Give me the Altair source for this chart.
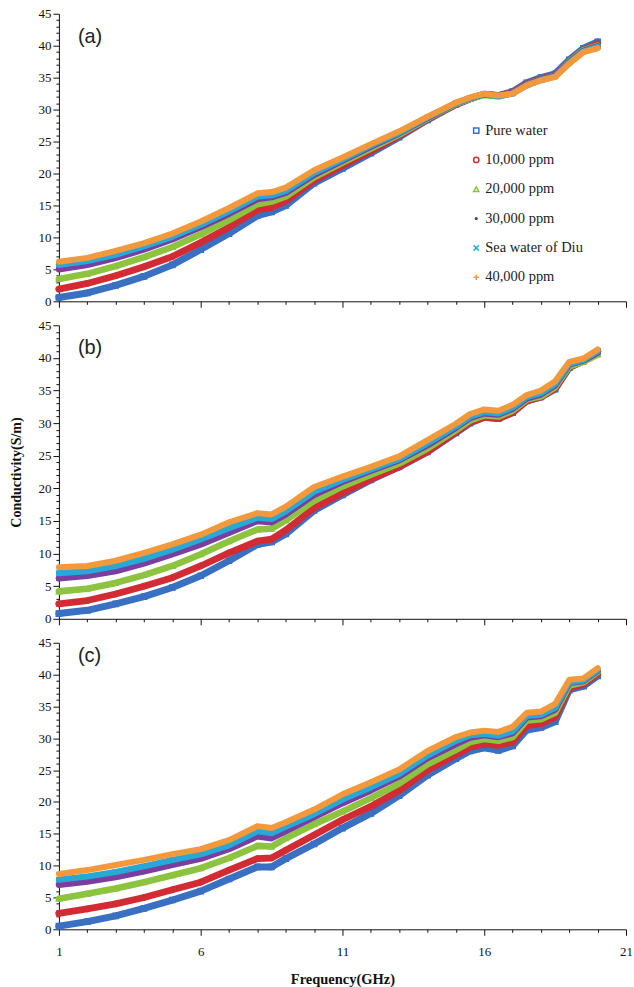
import altair as alt
import pandas as pd

freq = [1, 2, 3, 4, 5, 6, 7, 8, 8.5, 9, 10, 11, 12, 13, 14, 15, 15.5, 16, 16.5, 17, 17.5, 18, 18.5, 19, 19.5, 20]
series = ["Pure water", "10,000 ppm", "20,000 ppm", "30,000 ppm", "Sea water of Diu", "40,000 ppm"]
colors = ["#3a70c2", "#d22b33", "#8cc43f", "#4b3a7a", "#27a9d8", "#f4993b"]
shapes = ["square", "circle", "triangle-up",
          "M0,-0.3A0.3,0.3 0 1 1 0,0.3A0.3,0.3 0 1 1 0,-0.3Z",
          "M-1,-1L1,1M1,-1L-1,1", "M-1,0L1,0M0,-1L0,1"]
line_colors = ["#3a70c2", "#d22b33", "#8cc43f", "#7a3ea0", "#27a9d8", "#f4993b"]
line_widths = [7, 6, 6, 2, 5, 6]

# Panel (a)
a_pure   = [0.6, 1.3, 2.5, 3.9, 5.7, 8.1, 10.6, 13.4, 14.0, 15.0, 18.5, 20.8, 23.2, 25.7, 28.4, 30.8, 31.7, 32.4, 32.2, 32.8, 34.2, 35.0, 35.6, 37.8, 39.6, 40.6]
a_10k    = [1.9, 2.8, 4.0, 5.4, 7.0, 9.2, 11.6, 14.3, 14.7, 15.7, 18.9, 21.2, 23.5, 25.9, 28.5, 30.8, 31.7, 32.4, 32.2, 32.7, 34.0, 34.8, 35.4, 37.6, 39.4, 40.3]
a_20k    = [3.5, 4.3, 5.5, 6.9, 8.5, 10.5, 12.7, 15.2, 15.6, 16.4, 19.4, 21.7, 23.9, 26.1, 28.6, 30.9, 31.7, 32.3, 32.1, 32.6, 33.9, 34.7, 35.3, 37.5, 39.3, 40.0]
a_30k    = [5.0, 5.7, 6.8, 8.1, 9.7, 11.6, 13.7, 16.0, 16.3, 17.0, 19.8, 22.0, 24.2, 26.3, 28.7, 31.0, 31.8, 32.4, 32.2, 32.6, 33.9, 34.7, 35.3, 37.4, 39.2, 39.9]
a_sea    = [5.7, 6.3, 7.3, 8.6, 10.1, 12.0, 14.1, 16.4, 16.6, 17.3, 20.1, 22.2, 24.4, 26.4, 28.8, 31.0, 31.8, 32.4, 32.1, 32.5, 33.8, 34.6, 35.2, 37.3, 39.1, 39.8]
a_40k    = [6.2, 6.8, 7.9, 9.1, 10.6, 12.5, 14.6, 16.9, 17.1, 17.8, 20.5, 22.5, 24.6, 26.6, 28.9, 31.1, 31.9, 32.5, 32.2, 32.5, 33.8, 34.6, 35.1, 37.2, 39.0, 39.6]

# Panel (b)
b_pure   = [0.8, 1.3, 2.3, 3.4, 4.8, 6.6, 8.9, 11.4, 11.8, 13.0, 16.6, 19.0, 21.3, 23.3, 25.6, 28.5, 30.0, 30.9, 30.7, 31.6, 33.4, 34.0, 35.2, 38.5, 39.5, 41.0]
b_10k    = [2.3, 2.8, 3.8, 5.0, 6.3, 8.1, 10.1, 11.9, 12.2, 13.6, 17.0, 19.3, 21.4, 23.3, 25.6, 28.6, 30.1, 30.9, 30.7, 31.6, 33.4, 34.0, 35.3, 38.6, 39.5, 41.0]
b_20k    = [4.2, 4.6, 5.5, 6.7, 8.1, 9.9, 11.9, 13.7, 13.8, 15.1, 18.1, 20.3, 22.1, 23.8, 26.1, 28.9, 30.4, 31.2, 31.0, 31.9, 33.6, 34.1, 35.5, 38.7, 39.4, 40.5]
b_30k    = [6.2, 6.6, 7.3, 8.5, 9.9, 11.4, 13.2, 15.0, 14.8, 16.0, 19.0, 21.0, 22.7, 24.3, 26.6, 29.3, 30.8, 31.5, 31.3, 32.2, 33.8, 34.4, 35.8, 39.0, 39.6, 40.8]
b_sea    = [7.0, 7.3, 8.1, 9.2, 10.6, 12.2, 13.9, 15.5, 15.3, 16.5, 19.5, 21.3, 22.9, 24.5, 26.9, 29.5, 31.0, 31.7, 31.5, 32.4, 34.0, 34.6, 36.0, 39.1, 39.7, 41.0]
b_40k    = [7.9, 8.1, 8.9, 10.1, 11.4, 12.9, 14.8, 16.2, 16.0, 17.2, 20.2, 21.8, 23.3, 24.9, 27.4, 29.9, 31.4, 32.1, 31.9, 32.8, 34.3, 35.0, 36.4, 39.4, 39.9, 41.3]

# Panel (c)
c_pure   = [0.5, 1.2, 2.1, 3.3, 4.6, 6.0, 7.9, 9.8, 9.8, 11.1, 13.4, 15.9, 18.2, 21.0, 24.2, 26.8, 28.0, 28.5, 28.1, 28.8, 31.3, 31.7, 32.6, 37.6, 38.2, 39.8]
c_10k    = [2.5, 3.2, 4.0, 5.0, 6.2, 7.4, 9.3, 11.1, 11.2, 12.4, 14.8, 17.2, 19.3, 21.8, 25.0, 27.4, 28.6, 29.1, 28.9, 29.4, 32.0, 32.3, 33.3, 37.9, 38.5, 40.1]
c_20k    = [4.8, 5.6, 6.4, 7.4, 8.5, 9.6, 11.2, 13.1, 13.0, 14.3, 16.5, 18.5, 20.6, 22.9, 25.9, 28.2, 29.4, 29.9, 29.6, 30.2, 32.8, 33.0, 34.0, 38.3, 38.8, 40.4]
c_30k    = [7.0, 7.5, 8.2, 9.1, 10.1, 11.1, 12.6, 14.6, 14.3, 15.4, 17.6, 19.8, 21.8, 24.0, 26.9, 29.1, 30.1, 30.5, 30.2, 30.8, 33.3, 33.5, 34.5, 38.7, 39.0, 40.6]
c_sea    = [7.8, 8.3, 9.0, 9.9, 10.9, 11.8, 13.2, 15.4, 15.1, 16.1, 18.1, 20.4, 22.3, 24.4, 27.3, 29.6, 30.5, 30.7, 30.4, 31.1, 33.5, 33.7, 34.8, 38.8, 39.1, 40.7]
c_40k    = [8.7, 9.3, 10.1, 10.9, 11.8, 12.6, 14.0, 16.2, 15.9, 16.8, 18.8, 21.2, 23.1, 25.1, 28.0, 30.2, 30.9, 31.2, 31.0, 31.8, 34.0, 34.2, 35.4, 39.2, 39.4, 41.0]

panels = {
    "(a)": [a_pure, a_10k, a_20k, a_30k, a_sea, a_40k],
    "(b)": [b_pure, b_10k, b_20k, b_30k, b_sea, b_40k],
    "(c)": [c_pure, c_10k, c_20k, c_30k, c_sea, c_40k],
}

x_ticks = list(range(1, 22))
y_ticks = list(range(0, 46))
BLACK = "#111111"
SERIF = "Liberation Serif"


def make_df(vals):
    rows = []
    for s, v in zip(series, vals):
        for f, y in zip(freq, v):
            rows.append({"freq": f, "value": y, "series": s})
    return pd.DataFrame(rows)


def x_axis(show_labels):
    kw = dict(
        values=x_ticks,
        labelExpr="(datum.value - 1) % 5 === 0 ? datum.label : ''",
        tickSize={"condition": {"test": "(datum.value - 1) % 5 === 0", "value": 6}, "value": 3},
        labelOverlap=False,
        labelFlush=False,
        domainColor=BLACK,
        tickColor=BLACK,
        labelFont=SERIF,
        labelFontSize=13,
        labelColor=BLACK,
        labelPadding=10,
        grid=False,
    )
    if show_labels:
        kw.update(title="Frequency(GHz)", titleFont=SERIF, titleFontWeight="bold",
                  titleFontSize=14.5, titleColor=BLACK, titlePadding=14)
    else:
        kw.update(labels=False, title=None)
    return alt.Axis(**kw)


def y_axis(show_title):
    kw = dict(
        values=y_ticks,
        labelExpr="datum.value % 5 === 0 ? datum.label : ''",
        tickSize={"condition": {"test": "datum.value % 5 === 0", "value": 6}, "value": 3},
        labelOverlap=False,
        labelFlush=False,
        domainColor=BLACK,
        tickColor=BLACK,
        labelFont=SERIF,
        labelFontSize=13,
        labelColor=BLACK,
        labelPadding=2,
        grid=False,
    )
    if show_title:
        kw.update(title="Conductivity(S/m)", titleFont=SERIF, titleFontWeight="bold",
                  titleFontSize=14, titleColor=BLACK, titlePadding=14)
    else:
        kw.update(title=None)
    return alt.Axis(**kw)


color_scale = alt.Scale(domain=series, range=colors)
shape_scale = alt.Scale(domain=series, range=shapes)


def panel(label, vals, height, show_legend, show_xlabels, show_ytitle, label_y):
    df = make_df(vals)
    x = alt.X("freq:Q", scale=alt.Scale(domain=[1, 21], nice=False, zero=False), axis=x_axis(show_xlabels))
    y = alt.Y("value:Q", scale=alt.Scale(domain=[0, 45], nice=False), axis=y_axis(show_ytitle))
    points = alt.Chart(df).mark_point(filled=False, strokeWidth=1.4, opacity=1, size=28).encode(
        x=x, y=y,
        color=alt.Color("series:N", scale=color_scale, legend=None),
        shape=alt.Shape("series:N", scale=shape_scale, legend=None),
    )
    lines = alt.Chart(df).mark_line(strokeCap="round", strokeJoin="round").encode(
        x=x, y=y,
        stroke=alt.Stroke("series:N", scale=alt.Scale(domain=series, range=line_colors), legend=None),
        strokeWidth=alt.StrokeWidth("series:N", scale=alt.Scale(domain=series, range=line_widths), legend=None),
    )
    txt = alt.Chart(pd.DataFrame({"label": [label]})).mark_text(
        font="Liberation Sans", fontSize=20, color="#222222", align="left", baseline="middle"
    ).encode(text="label:N", x=alt.value(19), y=alt.value(label_y))
    data_layer = alt.layer(points, lines, txt)
    if not show_legend:
        return data_layer.properties(width=568, height=height)
    leg_df = pd.DataFrame({"series": series})
    leg_y = alt.Y("series:N", scale=alt.Scale(domain=series, range=[117, 264], padding=0), axis=None)
    leg_sym = alt.Chart(leg_df).mark_point(filled=False, strokeWidth=1.5, size=28, opacity=1).encode(
        x=alt.value(418), y=leg_y,
        color=alt.Color("series:N", scale=color_scale, legend=None),
        shape=alt.Shape("series:N", scale=shape_scale, legend=None),
    )
    leg_txt = alt.Chart(leg_df).mark_text(
        font=SERIF, fontSize=14.5, color="#222222", align="left", baseline="middle"
    ).encode(x=alt.value(427), y=leg_y, text="series:N")
    legend_layer = alt.layer(leg_sym, leg_txt)
    return alt.layer(data_layer, legend_layer).resolve_scale(y="independent").properties(width=568, height=height)


pa = panel("(a)", panels["(a)"], 288, True, False, False, 23)
pb = panel("(b)", panels["(b)"], 294, False, False, True, 23)
pc = panel("(c)", panels["(c)"], 287, False, True, False, 13)

chart = alt.vconcat(pa, pb, pc, spacing=11).resolve_scale(
    color="independent", stroke="independent", shape="independent", strokeWidth="independent"
).properties(
    padding={"left": 10, "top": 7, "right": 1, "bottom": 0},
    background="white",
).configure_view(stroke=None)

chart.save("out.html", embed_options={"renderer": "svg", "actions": False})
